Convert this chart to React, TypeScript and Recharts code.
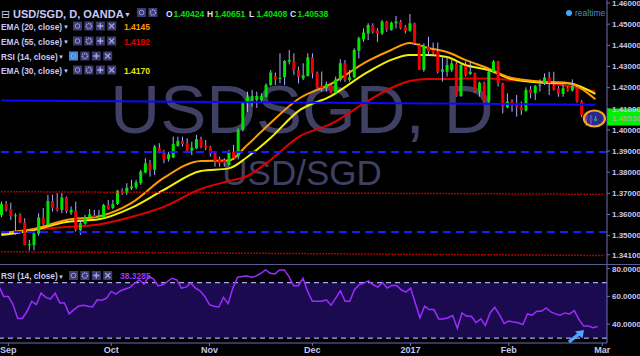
import React from "react"
import { ComposedChart, Bar, Line, LineChart, XAxis, YAxis, ReferenceLine, ReferenceDot, ReferenceArea } from "recharts"

// daily candles, USD/SGD (OANDA), end of Aug 2016 -> end of Feb 2017
const opens = [
  1.3598, 1.3650, 1.3626, 1.3594, 1.3598, 1.3563, 1.3458, 1.3456, 1.3509, 1.3586,
  1.3551, 1.3664, 1.3633, 1.3622, 1.3680, 1.3609, 1.3617, 1.3527, 1.3556, 1.3586,
  1.3598, 1.3590, 1.3587, 1.3645, 1.3630, 1.3650, 1.3712, 1.3701, 1.3724, 1.3729,
  1.3748, 1.3798, 1.3842, 1.3812, 1.3913, 1.3897, 1.3861, 1.3870, 1.3924, 1.3948,
  1.3937, 1.3902, 1.3913, 1.3956, 1.3925, 1.3921, 1.3889, 1.3861, 1.3857, 1.3834,
  1.3897, 1.3874, 1.3999, 1.4134, 1.4138, 1.4141, 1.4141, 1.4157, 1.4212, 1.4252,
  1.4241, 1.4249, 1.4323, 1.4326, 1.4283, 1.4244, 1.4255, 1.4343, 1.4268, 1.4208,
  1.4197, 1.4212, 1.4176, 1.4236, 1.4315, 1.4236, 1.4249, 1.4374, 1.4428, 1.4456,
  1.4496, 1.4469, 1.4456, 1.4512, 1.4472, 1.4504, 1.4512, 1.4488, 1.4469, 1.4504,
  1.4401, 1.4283, 1.4393, 1.4378, 1.4370, 1.4275, 1.4275, 1.4283, 1.4312, 1.4160,
  1.4302, 1.4264, 1.4268, 1.4181, 1.4223, 1.4134, 1.4275, 1.4323, 1.4220, 1.4107,
  1.4138, 1.4118, 1.4110, 1.4091, 1.4192, 1.4173, 1.4208, 1.4220, 1.4248, 1.4208,
  1.4197, 1.4170, 1.4197, 1.4186, 1.4201, 1.4134, 1.4071, 1.4055, 1.40424,
]
const highs = [
  1.3661, 1.3664, 1.3656, 1.3606, 1.3606, 1.3582, 1.3480, 1.3527, 1.3606, 1.3630,
  1.3693, 1.3693, 1.3701, 1.3701, 1.3685, 1.3638, 1.3661, 1.3574, 1.3598, 1.3625,
  1.3622, 1.3622, 1.3650, 1.3669, 1.3669, 1.3716, 1.3724, 1.3748, 1.3764, 1.3764,
  1.3811, 1.3866, 1.3858, 1.3929, 1.3937, 1.3905, 1.3897, 1.3968, 1.3968, 1.3968,
  1.3960, 1.3944, 1.3976, 1.3968, 1.3952, 1.3925, 1.3897, 1.3874, 1.3866, 1.3905,
  1.3929, 1.4007, 1.4134, 1.4181, 1.4189, 1.4181, 1.4173, 1.4220, 1.4283, 1.4271,
  1.4362, 1.4330, 1.4378, 1.4362, 1.4299, 1.4315, 1.4362, 1.4362, 1.4276, 1.4276,
  1.4228, 1.4220, 1.4252, 1.4334, 1.4330, 1.4283, 1.4386, 1.4441, 1.4480, 1.4504,
  1.4504, 1.4480, 1.4520, 1.4516, 1.4512, 1.4539, 1.4520, 1.4496, 1.4548, 1.4507,
  1.4409, 1.4409, 1.4441, 1.4413, 1.4413, 1.4346, 1.4346, 1.4330, 1.4323, 1.4315,
  1.4323, 1.4323, 1.4271, 1.4228, 1.4228, 1.4283, 1.4330, 1.4326, 1.4223, 1.4173,
  1.4145, 1.4165, 1.4134, 1.4201, 1.4208, 1.4212, 1.4239, 1.4267, 1.4275, 1.4275,
  1.4208, 1.4212, 1.4205, 1.4239, 1.4208, 1.4141, 1.4080, 1.4070, 1.40651,
]
const lows = [
  1.3587, 1.3614, 1.3574, 1.3504, 1.3559, 1.3454, 1.3430, 1.3430, 1.3499, 1.3551,
  1.3543, 1.3614, 1.3614, 1.3606, 1.3606, 1.3598, 1.3519, 1.3504, 1.3551, 1.3582,
  1.3582, 1.3587, 1.3582, 1.3622, 1.3625, 1.3645, 1.3693, 1.3693, 1.3716, 1.3719,
  1.3740, 1.3795, 1.3779, 1.3787, 1.3889, 1.3842, 1.3850, 1.3866, 1.3921, 1.3921,
  1.3893, 1.3881, 1.3908, 1.3913, 1.3905, 1.3874, 1.3826, 1.3826, 1.3826, 1.3826,
  1.3858, 1.3861, 1.3992, 1.4085, 1.4110, 1.4104, 1.4130, 1.4154, 1.4208, 1.4212,
  1.4220, 1.4212, 1.4310, 1.4260, 1.4220, 1.4236, 1.4252, 1.4244, 1.4197, 1.4181,
  1.4181, 1.4173, 1.4170, 1.4228, 1.4228, 1.4228, 1.4244, 1.4338, 1.4417, 1.4425,
  1.4456, 1.4417, 1.4449, 1.4464, 1.4469, 1.4480, 1.4475, 1.4456, 1.4464, 1.4401,
  1.4283, 1.4275, 1.4354, 1.4354, 1.4267, 1.4228, 1.4252, 1.4275, 1.4157, 1.4157,
  1.4252, 1.4260, 1.4176, 1.4157, 1.4134, 1.4126, 1.4268, 1.4205, 1.4078, 1.4102,
  1.4086, 1.4063, 1.4071, 1.4086, 1.4149, 1.4141, 1.4181, 1.4212, 1.4165, 1.4186,
  1.4157, 1.4157, 1.4181, 1.4181, 1.4129, 1.4060, 1.4020, 1.4030, 1.40408,
]
const closes = [
  1.3650, 1.3622, 1.3593, 1.3596, 1.3562, 1.3456, 1.3460, 1.3511, 1.3586, 1.3556,
  1.3664, 1.3630, 1.3622, 1.3680, 1.3614, 1.3622, 1.3527, 1.3559, 1.3586, 1.3601,
  1.3587, 1.3598, 1.3645, 1.3625, 1.3650, 1.3712, 1.3701, 1.3727, 1.3732, 1.3753,
  1.3803, 1.3842, 1.3810, 1.3921, 1.3897, 1.3861, 1.3885, 1.3933, 1.3948, 1.3933,
  1.3902, 1.3916, 1.3956, 1.3921, 1.3916, 1.3886, 1.3850, 1.3842, 1.3845, 1.3897,
  1.3866, 1.3999, 1.4126, 1.4157, 1.4160, 1.4160, 1.4160, 1.4212, 1.4271, 1.4239,
  1.4246, 1.4326, 1.4330, 1.4283, 1.4252, 1.4258, 1.4343, 1.4268, 1.4201, 1.4197,
  1.4217, 1.4176, 1.4239, 1.4315, 1.4236, 1.4249, 1.4378, 1.4433, 1.4460, 1.4496,
  1.4464, 1.4456, 1.4512, 1.4472, 1.4507, 1.4512, 1.4480, 1.4469, 1.4504, 1.4409,
  1.4286, 1.4397, 1.4370, 1.4365, 1.4275, 1.4286, 1.4307, 1.4315, 1.4160, 1.4307,
  1.4260, 1.4275, 1.4181, 1.4223, 1.4134, 1.4275, 1.4323, 1.4220, 1.4107, 1.4134,
  1.4126, 1.4107, 1.4094, 1.4189, 1.4173, 1.4208, 1.4212, 1.4248, 1.4223, 1.4192,
  1.4170, 1.4197, 1.4186, 1.4208, 1.4134, 1.4071, 1.4050, 1.4045, 1.40538,
]

// RSI(14) per candle
const rsiValues = [
  67.2, 60.0, 60.0, 54.1, 44.1, 44.1, 49.3, 56.5, 54.1, 62.4,
  59.3, 58.1, 62.4, 55.3, 55.3, 47.4, 50.5, 52.9, 53.6, 52.9,
  52.4, 57.6, 57.2, 58.8, 63.6, 61.7, 64.1, 65.3, 66.5, 69.6,
  71.9, 68.8, 74.3, 72.6, 67.6, 68.4, 70.7, 73.1, 71.9, 66.0,
  66.7, 69.6, 66.0, 64.1, 60.0, 54.1, 52.9, 52.4, 59.3, 54.8,
  66.0, 73.8, 74.3, 74.8, 73.6, 74.8, 76.7, 79.1, 76.7, 76.2,
  79.1, 79.1, 74.3, 67.6, 67.6, 73.1, 63.6, 56.5, 56.5,
  56.5, 57.6, 53.6, 58.8, 64.1, 56.5, 56.5, 64.8, 68.4, 69.6,
  71.2, 68.4, 66.7, 70.0, 66.0, 67.9, 67.9, 64.8, 63.1, 66.0,
  55.3, 44.6, 52.9, 50.5, 50.5, 43.8, 43.8, 44.6, 46.2, 37.0,
  48.1, 45.7, 45.7, 41.0, 43.8, 39.1, 48.1, 52.2, 46.9, 40.5,
  42.2, 41.5, 41.0, 39.8, 47.4, 46.5, 49.3, 49.3, 51.7, 48.8,
  47.4, 46.5, 48.1, 47.4, 49.8, 43.4, 38.6, 38.6, 37.4, 38.3285,
]

// moving averages at these candle positions
const emaIndex = [0, 7, 14, 21, 28, 35, 43, 49, 53, 58, 64, 71, 79, 84, 88, 92, 96, 100, 105, 110, 116, 122, 128]
const ema20 = [1.3513, 1.3531, 1.3574, 1.3591, 1.3654, 1.3773, 1.3853, 1.3855, 1.3929, 1.4033, 1.4146, 1.4217, 1.4326, 1.4378, 1.4411, 1.4387, 1.4368, 1.4331, 1.4290, 1.4245, 1.4229, 1.4222, 1.4145]
const ema30 = [1.3503, 1.3527, 1.3565, 1.3577, 1.3631, 1.3716, 1.3806, 1.3818, 1.3872, 1.3962, 1.4089, 1.4160, 1.4274, 1.4331, 1.4354, 1.4354, 1.4345, 1.4307, 1.4283, 1.4240, 1.4224, 1.4220, 1.4170]
const ema55 = [1.3508, 1.3527, 1.3541, 1.3553, 1.3588, 1.3636, 1.3721, 1.3758, 1.3782, 1.3858, 1.3966, 1.4028, 1.4137, 1.4198, 1.4231, 1.4241, 1.4241, 1.4243, 1.4243, 1.4236, 1.4227, 1.4208, 1.4182]

const monthTicks = [2, 24, 45, 67, 88, 109, 129]
const monthLabels = ["Sep", "Oct", "Nov", "Dec", "2017", "Feb", "Mar"]
const priceTicks = [1.341, 1.35, 1.36, 1.37, 1.38, 1.39, 1.4, 1.41, 1.42, 1.43, 1.44, 1.45, 1.46]
const rsiTicks = [40, 60, 80]

const SLOTS = 131
const PRICE_DOMAIN = [1.33612, 1.46142]
const FONT = '"Liberation Sans", Arial, sans-serif'
const AXIS = "#6f6fbb"
const LABEL = "#c6c6f0"

const rows = Array.from({ length: SLOTS }, (_, i) => {
  const has = i < closes.length
  return {
    i,
    range: has ? [lows[i], highs[i]] : null,
    open: has ? opens[i] : null,
    high: has ? highs[i] : null,
    low: has ? lows[i] : null,
    close: has ? closes[i] : null,
    rsi: has ? rsiValues[i] : null,
  }
})

const emaRows = emaIndex.map((k, j) => ({ k, ema20: ema20[j], ema30: ema30[j], ema55: ema55[j] }))

const last = rows[closes.length - 1]

function Candle(props: any) {
  const { x, y, width, height, payload } = props
  if (!payload || payload.close == null) return null
  const top = Math.min(y, y + height)
  const h = Math.abs(height)
  const span = payload.high - payload.low || 1e-9
  const py = (v: number) => top + ((payload.high - v) / span) * h
  const cx = x + width / 2
  const yo = py(payload.open)
  const yc = py(payload.close)
  const up = payload.close >= payload.open
  return (
    <g>
      <line x1={cx} x2={cx} y1={top} y2={top + h} stroke="#aab0ff" strokeWidth={1} />
      <rect x={cx - 1.5} y={Math.min(yo, yc)} width={3} height={Math.max(Math.abs(yo - yc), 1)} fill={up ? "#00e600" : "#f00000"} />
    </g>
  )
}

function PriceTag(props: any) {
  const vb = props.viewBox
  if (!vb) return null
  const x = vb.x + vb.width
  return (
    <g>
      <rect x={x} y={vb.y - 10} width={34} height={17} fill="#00f000" />
      <text x={x + 5} y={vb.y + 2} fill="#8fbf8f" fontSize={8} fontWeight={700} fontFamily={FONT}>
        {last.close?.toFixed(5)}
      </text>
    </g>
  )
}

function Circled(props: any) {
  const { cx, cy } = props
  if (cx == null) return null
  return <ellipse cx={cx - 1} cy={cy} rx={10.5} ry={8} fill="#4a4aff" fillOpacity={0.55} stroke="#f5a623" strokeWidth={2.2} />
}

function Boxes({ x, y, n, active }: { x: number; y: number; n: number; active?: boolean }) {
  const kinds = ["eye", "gear", "plus", "cross"].slice(0, n)
  return (
    <g>
      {kinds.map((k, j) => {
        const bx = x + j * 11.4
        const c = { x: bx + 4.5, y: y + 4.5 }
        return (
          <g key={k}>
            <rect x={bx} y={y} width={9} height={9} fill={active && j === 0 ? "#3b8de0" : "#3c3c72"} />
            {k === "eye" && <circle cx={c.x} cy={c.y} r={2.3} fill="none" stroke="#9c9cd8" strokeWidth={1} />}
            {k === "gear" && <circle cx={c.x} cy={c.y} r={2.6} fill="none" stroke="#9c9cd8" strokeWidth={1.6} strokeDasharray="1.3 0.9" />}
            {k === "plus" && <path d={`M${c.x - 3} ${c.y}H${c.x + 3}M${c.x} ${c.y - 3}V${c.y + 3}`} stroke="#a8a8e0" strokeWidth={1.3} />}
            {k === "cross" && <path d={`M${c.x - 2.5} ${c.y - 2.5}L${c.x + 2.5} ${c.y + 2.5}M${c.x + 2.5} ${c.y - 2.5}L${c.x - 2.5} ${c.y + 2.5}`} stroke="#a8a8e0" strokeWidth={1.1} />}
          </g>
        )
      })}
    </g>
  )
}

const studyRows = [
  { label: "EMA (20, close)", y: 29.5, value: "1.4145", color: "#ff9a00", boxX: 73, arrowX: 63 },
  { label: "EMA (55, close)", y: 44.5, value: "1.4182", color: "#e00000", boxX: 73, arrowX: 63 },
  { label: "RSI (14, close)", y: 59.5, value: "", color: "", boxX: 69, arrowX: 58 },
  { label: "EMA (30, close)", y: 73.5, value: "1.4170", color: "#e6e600", boxX: 73, arrowX: 63 },
]

const ohlc = [
  { k: "O", x: 166, v: last.open },
  { k: "H", x: 207, v: last.high },
  { k: "L", x: 249, v: last.low },
  { k: "C", x: 290, v: last.close },
]

export default function App() {
  const txt = { fontFamily: FONT, fontWeight: 700 } as const
  return (
    <div style={{ position: "fixed", left: 0, top: 0, width: 640, height: 356, background: "#000", overflow: "hidden" }}>
      {/* watermark */}
      <svg width={640} height={356} style={{ position: "absolute", left: 0, top: 0 }}>
        <text x={302} y={133} textAnchor="middle" fontSize={69} fill="#404064" fontFamily={FONT}>USDSGD, D</text>
        <text x={302} y={185} textAnchor="middle" fontSize={35} fill="#404064" fontFamily={FONT}>USD/SGD</text>
      </svg>

      {/* moving averages, same plot box as the candles */}
      <div style={{ position: "absolute", left: -1, top: 0 }}>
        <LineChart width={641} height={265} data={emaRows} margin={{ top: 0, right: 33, bottom: 0, left: 0 }}>
          <XAxis dataKey="k" type="number" domain={[-0.5, SLOTS - 0.5]} hide />
          <YAxis domain={PRICE_DOMAIN} allowDataOverflow hide />
          <Line type="monotone" dataKey="ema55" stroke="#e00000" strokeWidth={2} dot={false} isAnimationActive={false} />
          <Line type="monotone" dataKey="ema30" stroke="#f2f200" strokeWidth={2} dot={false} isAnimationActive={false} />
          <Line type="monotone" dataKey="ema20" stroke="#ff9a00" strokeWidth={2} dot={false} isAnimationActive={false} />
        </LineChart>
      </div>

      <div style={{ position: "absolute", left: -1, top: 0 }}>
        <ComposedChart width={641} height={265} data={rows} margin={{ top: 0, right: 0, bottom: 0, left: 0 }}>
          <XAxis dataKey="i" hide />
          <YAxis
            orientation="right"
            width={33}
            domain={PRICE_DOMAIN}
            allowDataOverflow
            ticks={priceTicks}
            interval={0}
            tickFormatter={(v: number) => v.toFixed(5)}
            tick={{ fill: LABEL, fontSize: 8, fontWeight: 700, fontFamily: FONT }}
            axisLine={{ stroke: AXIS }}
            tickLine={{ stroke: AXIS }}
            tickSize={3}
            tickMargin={2}
          />
          <ReferenceLine y={1.38955} stroke="#1c1cff" strokeWidth={2} strokeDasharray="8 5" />
          <ReferenceLine y={1.35173} stroke="#1c1cff" strokeWidth={2} strokeDasharray="8 5" />
          <ReferenceLine segment={[{ x: 0, y: 1.37078 }, { x: 130, y: 1.36955 }]} stroke="#e00000" strokeWidth={1.5} strokeDasharray="1.5 1.5" />
          <ReferenceLine segment={[{ x: 0, y: 1.34241 }, { x: 130, y: 1.34061 }]} stroke="#e00000" strokeWidth={1.5} strokeDasharray="1.5 1.5" />
          <ReferenceLine segment={[{ x: 0, y: 1.4139 }, { x: 128, y: 1.41191 }]} stroke="#0a0aff" strokeWidth={2} />
          <Bar dataKey="range" barSize={3} shape={Candle} isAnimationActive={false} />
          <ReferenceDot x={128} y={1.4054} r={8} shape={Circled} />
          <ReferenceLine y={last.close as number} stroke="none" label={<PriceTag />} />
        </ComposedChart>
      </div>

      <div style={{ position: "absolute", left: 0, top: 263.5, width: 640, height: 1.5, background: "#5c5c90" }} />

      <div style={{ position: "absolute", left: -1, top: 264 }}>
        <ComposedChart width={641} height={92} data={rows} margin={{ top: 1, right: 0, bottom: 0, left: 0 }}>
          <XAxis
            dataKey="i"
            ticks={monthTicks}
            interval={0}
            height={13}
            tickFormatter={(v: number) => monthLabels[monthTicks.indexOf(v)] ?? ""}
            tick={{ fill: LABEL, fontSize: 9, fontWeight: 700, fontFamily: FONT }}
            axisLine={{ stroke: AXIS }}
            tickLine={{ stroke: AXIS }}
            tickSize={3}
            tickMargin={1}
          />
          <YAxis
            orientation="right"
            width={33}
            domain={[26.43, 82.64]}
            allowDataOverflow
            ticks={rsiTicks}
            interval={0}
            tickFormatter={(v: number) => v.toFixed(4)}
            tick={{ fill: LABEL, fontSize: 8, fontWeight: 700, fontFamily: FONT }}
            axisLine={{ stroke: AXIS }}
            tickLine={{ stroke: AXIS }}
            tickSize={3}
            tickMargin={2}
          />
          <ReferenceArea y1={30} y2={70} fill="#1b0a4f" fillOpacity={1} stroke="none" />
          <ReferenceLine y={70} stroke="#a9a9e8" strokeWidth={1.2} strokeDasharray="5 4" />
          <ReferenceLine y={30} stroke="#a9a9e8" strokeWidth={1.2} strokeDasharray="5 4" />
          <Line type="linear" dataKey="rsi" stroke="#9b2cff" strokeWidth={1.5} dot={false} isAnimationActive={false} />
        </ComposedChart>
      </div>

      {/* legends and labels */}
      <svg width={640} height={356} style={{ position: "absolute", left: 0, top: 0, pointerEvents: "none" }}>
        <text x={1} y={17.5} fill="#c8c8f8" fontSize={11} fontFamily='"DejaVu Sans"'>⊟</text>
        <text x={13} y={17.5} fill="#c8c8f8" fontSize={11} {...txt}>USD/SGD, D, OANDA</text>
        <text x={124} y={17} fill="#c8c8f8" fontSize={7} {...txt}>▼</text>
        <Boxes x={137} y={8} n={2} />
        {ohlc.map((o) => (
          <g key={o.k}>
            <text x={o.x} y={17} fill="#dcdcff" fontSize={8.5} {...txt}>{o.k}</text>
            <text x={o.x + 7.5} y={17} fill="#00e000" fontSize={8.5} {...txt}>{(o.v as number).toFixed(5)}</text>
          </g>
        ))}
        {studyRows.map((r) => (
          <g key={r.label}>
            <text x={1} y={r.y} fill="#c8c8f8" fontSize={8.3} {...txt}>{r.label}</text>
            <text x={r.arrowX} y={r.y - 0.5} fill="#c8c8f8" fontSize={6} {...txt}>▼</text>
            <Boxes x={r.boxX} y={r.y - 8} n={4} active={r.label.startsWith("RSI")} />
            {r.value && <text x={124} y={r.y} fill={r.color} fontSize={8.5} {...txt}>{r.value}</text>}
          </g>
        ))}
        <circle cx={569} cy={13} r={3} fill="#3fa9f5" />
        <text x={575} y={16} fill="#3f8fd0" fontSize={8.5} fontFamily={FONT}>realtime</text>

        <text x={1} y={279} fill="#c8c8f8" fontSize={8.3} {...txt}>RSI (14, close)</text>
        <text x={58} y={278.5} fill="#c8c8f8" fontSize={6} {...txt}>▼</text>
        <Boxes x={69} y={271} n={4} />
        <text x={120} y={279} fill="#9b35ff" fontSize={8.5} {...txt}>{rsiValues[rsiValues.length - 1].toFixed(4)}</text>

        <path d="M569 342 L579 334" stroke="#4da6ff" strokeWidth={3.5} />
        <path d="M584 330 L575 331.5 L582.5 338.5 Z" fill="#4da6ff" />
      </svg>
    </div>
  )
}
